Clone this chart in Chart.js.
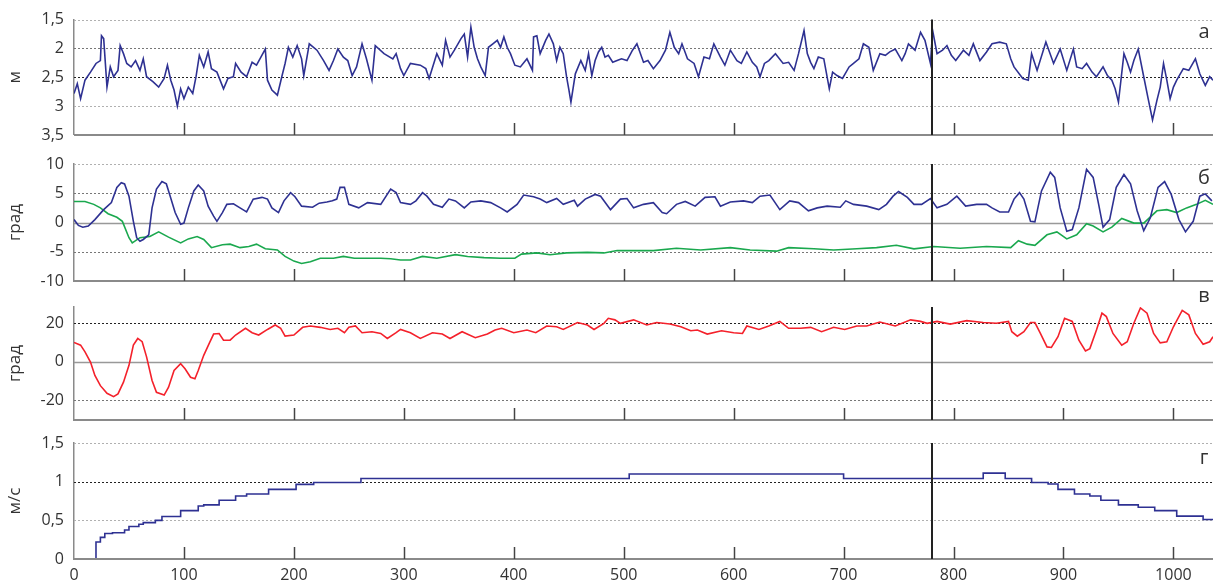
<!DOCTYPE html>
<html>
<head>
<meta charset="utf-8">
<script src="https://cdn.jsdelivr.net/npm/chart.js@4/dist/chart.umd.min.js"></script>
<style>
  html, body { margin: 0; padding: 0; background: #fff; }
  #wrap { position: relative; width: 1213px; height: 582px; overflow: hidden; }
  #wrap canvas { position: absolute; left: 0; top: 0; }
</style>
</head>
<body>
<div id="wrap">
  <canvas id="panelA" width="1213" height="582"></canvas>
  <canvas id="panelB" width="1213" height="582"></canvas>
  <canvas id="panelC" width="1213" height="582"></canvas>
  <canvas id="panelD" width="1213" height="582"></canvas>
</div>
<script>
// shared time axis
const xTicks = [0, 100, 200, 300, 400, 500, 600, 700, 800, 900, 1000];
const xMax = 1036;
const markerAt = 780;

// panel а, м
const timeA = [
  0, 3, 6, 10, 15, 20, 24, 25, 27, 30,
  33, 36, 40, 42, 45, 48, 52, 56, 60, 63,
  66, 72, 77, 82, 85, 88, 91, 94, 97, 100,
  104, 108, 111, 114, 118, 122, 125, 130, 136, 140,
  145, 147, 152, 157, 162, 166, 170, 174, 176, 180,
  185, 189, 192, 195, 199, 203, 207, 209, 214, 221,
  227, 232, 236, 240, 245, 249, 253, 257, 262, 266,
  271, 274, 282, 290, 293, 297, 300, 306, 315, 320,
  323, 330, 335, 338, 342, 346, 352, 355, 358, 361,
  364, 367, 370, 374, 377, 381, 385, 388, 391, 394,
  397, 401, 406, 412, 417, 418, 421, 424, 429, 432,
  436, 439, 442, 445, 448, 450, 452, 456, 461, 465,
  468, 471, 474, 477, 480, 483, 486, 490, 494, 498,
  503, 508, 512, 518, 522, 527, 533, 538, 542, 546,
  550, 553, 558, 564, 568, 573, 578, 582, 588, 592,
  597, 603, 607, 612, 617, 621, 624, 628, 632, 638,
  645, 650, 655, 659, 664, 667, 670, 673, 677, 682,
  687, 690, 694, 699, 705, 709, 714, 718, 723, 727,
  733, 738, 742, 747, 753, 756, 759, 765, 770, 774,
  779, 781, 785, 790, 794, 798, 802, 809, 814, 818,
  824, 830, 835, 842, 848, 852, 855, 863, 868, 871,
  876, 884, 891, 897, 903, 909, 912, 917, 921, 926,
  930, 936, 940, 944, 947, 950, 955, 958, 961, 964,
  968, 973, 977, 981, 985, 988, 991, 994, 997, 1000,
  1003, 1009, 1014, 1020, 1024, 1029, 1033, 1036
];
const depthA = [
  2.78, 2.61, 2.87, 2.55, 2.41, 2.26, 2.21, 1.78, 1.83, 2.67,
  2.32, 2.49, 2.38, 1.95, 2.09, 2.26, 2.32, 2.21, 2.38, 2.18,
  2.49, 2.58, 2.67, 2.52, 2.29, 2.55, 2.72, 3.0, 2.70, 2.87,
  2.67, 2.78, 2.49, 2.12, 2.32, 2.06, 2.35, 2.41, 2.70, 2.52,
  2.49, 2.26, 2.41, 2.49, 2.24, 2.29, 2.15, 2.01, 2.55, 2.72,
  2.81, 2.49, 2.26, 1.98, 2.15, 1.95, 2.18, 2.47, 1.92, 2.03,
  2.21, 2.38, 2.21, 2.01, 2.15, 2.21, 2.47, 2.32, 1.92, 2.18,
  2.55, 1.95, 2.09, 2.18, 2.09, 2.35, 2.47, 2.26, 2.29, 2.35,
  2.52, 2.09, 2.29, 1.86, 2.15, 2.03, 1.83, 1.75, 2.15, 1.63,
  1.98, 2.18, 2.32, 2.47, 1.98, 1.92, 1.86, 1.98, 1.80, 1.98,
  2.09, 2.29, 2.32, 2.18, 2.38, 1.80, 1.78, 2.09, 1.86, 1.75,
  1.92, 2.21, 1.98, 2.09, 2.49, 2.70, 2.93, 2.44, 2.21, 2.38,
  2.09, 2.47, 2.21, 2.06, 1.98, 2.15, 2.12, 2.24, 2.21, 2.18,
  2.21, 2.03, 1.92, 2.24, 2.21, 2.35, 2.21, 2.03, 1.72, 1.98,
  2.09, 1.92, 2.18, 2.26, 2.49, 2.15, 2.18, 1.92, 2.15, 2.29,
  2.03, 2.21, 2.26, 2.06, 2.24, 2.32, 2.49, 2.26, 2.21, 2.09,
  2.26, 2.24, 2.38, 2.09, 1.69, 2.09, 2.24, 2.35, 2.15, 2.18,
  2.70, 2.41, 2.47, 2.52, 2.32, 2.26, 2.18, 1.92, 1.98, 2.38,
  2.09, 2.12, 2.06, 2.01, 2.21, 2.09, 1.92, 2.03, 1.72, 1.86,
  2.26, 1.69, 2.09, 2.03, 1.95, 2.12, 2.21, 2.03, 2.12, 1.92,
  2.21, 2.06, 1.92, 1.89, 1.92, 2.18, 2.32, 2.52, 2.55, 2.09,
  2.38, 1.89, 2.26, 2.01, 2.38, 2.01, 2.32, 2.35, 2.26, 2.41,
  2.49, 2.32, 2.47, 2.55, 2.70, 2.93, 2.09, 2.24, 2.41, 2.21,
  2.01, 2.49, 2.87, 3.24, 2.90, 2.67, 2.26, 2.55, 2.87, 2.67,
  2.55, 2.35, 2.38, 2.18, 2.44, 2.64, 2.49, 2.55
];
const ticksA = [1.5, 2, 2.5, 3, 3.5];

// panel б, град (blue and green)
const timeB1 = [
  0, 4, 8, 13, 19, 27, 34, 39, 43, 46,
  50, 54, 57, 60, 63, 68, 71, 75, 80, 84,
  87, 92, 97, 100, 104, 109, 113, 118, 122, 127,
  130, 135, 139, 145, 151, 157, 163, 171, 176, 180,
  186, 191, 197, 201, 207, 217, 223, 230, 235, 239,
  242, 246, 250, 259, 267, 279, 288, 293, 297, 306,
  311, 317, 321, 327, 335, 341, 347, 355, 361, 370,
  379, 388, 394, 403, 409, 418, 424, 430, 439, 445,
  455, 458, 465, 474, 479, 488, 497, 503, 509, 518,
  527, 535, 539, 548, 556, 565, 574, 583, 588, 597,
  609, 617, 624, 633, 642, 651, 659, 668, 676, 685,
  697, 702, 709, 721, 732, 739, 745, 750, 758, 764,
  771, 779, 785, 794, 803, 811, 821, 830, 835, 842,
  850, 855, 860, 864, 870, 874, 880, 888, 892, 897,
  903, 908, 914, 921, 927, 932, 936, 942, 948, 955,
  961, 967, 973, 979, 986, 992, 998, 1005, 1011, 1018,
  1024, 1029, 1035
];
const angleB1 = [
  0.5, -0.5, -0.8, -0.6, 0.5, 2.2, 3.4, 6.0, 6.8, 6.6,
  4.5, 0.2, -2.6, -3.2, -2.9, -2.1, 2.5, 5.7, 7.0, 6.6,
  4.8, 1.7, -0.3, -0.1, 2.5, 5.4, 6.4, 5.4, 2.8, 1.1,
  0.2, 1.7, 3.1, 3.2, 2.5, 1.8, 4.0, 4.3, 4.0, 2.5,
  1.7, 3.7, 5.1, 4.4, 2.8, 2.6, 3.3, 3.5, 3.7, 4.0,
  6.0, 6.0, 3.1, 2.5, 3.4, 3.1, 5.7, 5.1, 3.4, 3.1,
  3.7, 5.1, 4.5, 3.1, 2.6, 4.0, 3.7, 2.5, 3.5, 3.7,
  3.4, 2.5, 1.8, 3.1, 4.7, 4.4, 4.0, 3.4, 4.1, 3.1,
  3.8, 2.8, 4.0, 4.8, 4.5, 2.2, 4.0, 4.1, 2.5, 3.1,
  3.4, 1.7, 1.5, 3.1, 3.6, 2.8, 4.3, 4.4, 2.8, 3.5,
  3.7, 3.4, 4.5, 4.7, 2.2, 3.7, 3.4, 2.0, 2.5, 2.8,
  2.6, 3.7, 3.1, 2.8, 2.2, 3.1, 4.5, 5.3, 4.3, 3.1,
  3.1, 4.1, 2.5, 3.1, 4.5, 2.8, 3.1, 3.1, 2.5, 1.8,
  1.8, 4.0, 5.1, 4.0, 0.2, 0.1, 5.4, 8.6, 7.7, 2.5,
  -1.5, -1.2, 2.5, 9.1, 7.7, 3.1, -0.8, 0.5, 6.0, 8.2,
  6.6, 2.0, -1.4, 0.8, 6.0, 7.0, 4.8, 0.5, -1.6, 0.2,
  4.5, 4.9, 3.7
];
const timeB2 = [
  0, 10, 18, 24, 31, 39, 44, 50, 53, 60,
  69, 77, 86, 97, 104, 112, 118, 125, 135, 142,
  151, 159, 166, 174, 185, 192, 200, 207, 215, 224,
  236, 245, 255, 267, 279, 288, 297, 306, 317, 330,
  347, 358, 373, 388, 401, 407, 421, 433, 448, 467,
  482, 494, 515, 527, 548, 570, 597, 615, 639, 650,
  673, 691, 712, 730, 748, 764, 782, 806, 830, 852,
  859, 867, 874, 885, 894, 903, 912, 921, 927, 936,
  944, 953, 964, 973, 985, 994, 1003, 1012, 1021, 1029,
  1036
];
const angleB2 = [
  3.6, 3.6, 3.1, 2.5, 1.5, 0.9, 0.2, -2.6, -3.5, -2.6,
  -2.4, -1.6, -2.5, -3.5, -2.8, -2.4, -2.9, -4.3, -3.8, -3.7,
  -4.3, -4.1, -3.7, -4.5, -4.7, -5.8, -6.6, -7.0, -6.7, -6.1,
  -6.1, -5.8, -6.1, -6.1, -6.1, -6.2, -6.4, -6.4, -5.8, -6.1,
  -5.5, -5.8, -6.0, -6.1, -6.1, -5.4, -5.2, -5.5, -5.2, -5.1,
  -5.2, -4.8, -4.8, -4.8, -4.4, -4.7, -4.3, -4.7, -4.9, -4.3,
  -4.5, -4.7, -4.5, -4.3, -3.9, -4.5, -4.1, -4.4, -4.1, -4.3,
  -3.1, -3.7, -3.9, -2.1, -1.6, -2.8, -2.1, -0.2, -0.6, -1.6,
  -0.8, 0.7, -0.1, -0.1, 2.0, 2.2, 1.7, 2.5, 3.1, 3.8,
  3.1
];
const ticksB = [-10, -5, 0, 5, 10];

// panel в, град (red)
const timeC = [
  0, 6, 10, 15, 19, 24, 30, 36, 40, 45,
  50, 54, 58, 62, 66, 71, 75, 82, 86, 91,
  97, 101, 106, 110, 113, 118, 123, 127, 132, 136,
  142, 147, 156, 162, 168, 176, 183, 188, 192, 200,
  208, 215, 224, 233, 240, 246, 250, 256, 262, 271,
  279, 285, 293, 297, 306, 315, 326, 335, 342, 353,
  365, 376, 383, 389, 400, 412, 420, 430, 439, 445,
  458, 467, 473, 482, 486, 492, 497, 509, 521, 530,
  542, 552, 561, 567, 576, 589, 600, 608, 612, 623,
  632, 642, 650, 661, 670, 680, 691, 701, 712, 721,
  733, 747, 761, 770, 776, 785, 797, 812, 827, 839,
  850, 853, 858, 864, 870, 874, 879, 885, 889, 895,
  901, 908, 914, 920, 924, 930, 935, 939, 945, 953,
  958, 964, 970, 976, 982, 988, 994, 1000, 1008, 1014,
  1020, 1027, 1033, 1036
];
const angleC = [
  10, 8.6, 5.1, -0.2, -7.2, -12.5, -16.5, -18.2, -16.8, -10.7,
  -1.9, 8.6, 12.1, 10.4, 2.5, -9.8, -16.0, -17.4, -13.3, -4.6,
  -1.1, -3.7, -8.1, -8.9, -4.6, 3.3, 9.5, 14.4, 14.7, 11.2,
  11.2, 13.9, 17.4, 15.1, 13.9, 16.8, 19.1, 17.4, 13.3, 13.9,
  17.9, 18.6, 17.9, 16.8, 17.4, 15.1, 17.9, 18.6, 15.1, 15.6,
  14.7, 12.1, 15.1, 16.8, 15.1, 12.1, 15.1, 14.4, 12.1, 15.6,
  12.5, 14.4, 16.5, 17.4, 15.1, 16.5, 15.1, 18.6, 18.2, 16.8,
  20.4, 19.1, 16.8, 20, 22.6, 21.8, 20, 21.8, 19.1, 20.4,
  19.6, 18.2, 16.1, 16.5, 14.4, 16.1, 15.1, 14.7, 18.6, 16.8,
  18.6, 21.0, 17.4, 17.4, 17.9, 15.6, 17.9, 16.8, 18.6, 18.6,
  20.7, 18.6, 21.8, 21, 20, 21, 19.6, 21.4, 20.4, 20,
  21, 15.6, 13.3, 15.6, 20.4, 20.4, 14.7, 7.7, 7.4, 13.0,
  22.6, 21, 11.2, 5.6, 6.8, 16.5, 25.3, 23.5, 14.7, 8.6,
  10.4, 20, 28, 25.3, 14.7, 9.8, 10.4, 18.2, 26.7, 24.4,
  14.7, 9.1, 10.4, 13.0
];
const ticksC = [-20, 0, 20];

// panel г, м/с (stepped)
const timeD = [
  20, 20, 24, 28, 35, 46, 50, 59, 63, 74,
  80, 97, 113, 118, 132, 147, 157, 177, 202, 218,
  261, 505, 700, 827, 847, 871, 886, 895, 910, 924,
  934, 950, 968, 983, 1003, 1027, 1036
];
const speedD = [
  0, 0.22, 0.28, 0.33, 0.34, 0.375, 0.42, 0.45, 0.47, 0.50,
  0.55, 0.625, 0.685, 0.70, 0.76, 0.815, 0.84, 0.90, 0.965, 0.99,
  1.04, 1.10, 1.04, 1.11, 1.04, 0.99, 0.97, 0.90, 0.84, 0.815,
  0.76, 0.70, 0.67, 0.625, 0.555, 0.51, 0.51
];
const ticksD = [0, 0.5, 1, 1.5];

const BLUE = '#2e3192';
const GREEN = '#1aa84e';
const RED = '#f4212b';

Chart.defaults.font.family = "'Open Sans', sans-serif";
Chart.defaults.font.size = 16;
Chart.defaults.color = '#333';

const pts = (xs, ys) => xs.map((x, i) => ({ x: x, y: ys[i] }));

// guide lines, bottom axis with inner ticks, marker line, panel letter
const frame = {
  id: 'frame',
  beforeDatasetsDraw(chart, args, opts) {
    const { ctx, chartArea: a } = chart;
    const y = chart.scales.y;
    ctx.save();
    opts.guides.forEach(g => {
      const py = Math.round(y.getPixelForValue(g.value)) + 0.5;
      ctx.beginPath();
      ctx.strokeStyle = g.color;
      ctx.lineWidth = g.width || 1;
      ctx.setLineDash(g.dash || []);
      ctx.moveTo(a.left, py);
      ctx.lineTo(a.right, py);
      ctx.stroke();
    });
    ctx.restore();
  },
  afterDatasetsDraw(chart, args, opts) {
    const { ctx, chartArea: a } = chart;
    const x = chart.scales.x;
    ctx.save();
    ctx.setLineDash([]);
    ctx.strokeStyle = '#8a8a8a';
    ctx.lineWidth = 2;
    ctx.beginPath();
    ctx.moveTo(a.left, a.bottom);
    ctx.lineTo(a.right, a.bottom);
    ctx.stroke();

    ctx.strokeStyle = '#444';
    ctx.lineWidth = 1.5;
    xTicks.filter(v => v > 0).forEach(v => {
      const px = Math.round(x.getPixelForValue(v)) + 0.5;
      ctx.beginPath();
      ctx.moveTo(px, a.bottom);
      ctx.lineTo(px, a.bottom - 12);
      ctx.stroke();
    });

    const mx = Math.round(x.getPixelForValue(markerAt));
    ctx.strokeStyle = '#222';
    ctx.lineWidth = 2;
    ctx.beginPath();
    ctx.moveTo(mx, a.top);
    ctx.lineTo(mx, a.bottom);
    ctx.stroke();

    ctx.fillStyle = '#333';
    ctx.font = "20px 'Open Sans', sans-serif";
    ctx.textAlign = 'center';
    ctx.textBaseline = 'middle';
    ctx.fillText(opts.letter, a.right - 9, a.top + opts.letterDy);
    ctx.restore();
  }
};

function makePanel(id, datasets, y, frameOpts, pad, showX) {
  return new Chart(document.getElementById(id), {
    type: 'line',
    data: { datasets: datasets },
    options: {
      responsive: false,
      animation: false,
      events: [],
      layout: { padding: { top: pad[0], bottom: pad[1], left: 0, right: 0 } },
      elements: { point: { radius: 0 }, line: { borderWidth: 1.6, tension: 0 } },
      plugins: { legend: { display: false }, tooltip: { enabled: false }, frame: frameOpts },
      scales: {
        x: {
          type: 'linear',
          min: 0,
          max: xMax,
          display: showX,
          afterBuildTicks: s => { s.ticks = xTicks.map(v => ({ value: v })); },
          afterFit: s => { if (showX) s.height = 23; },
          grid: { display: false, drawTicks: false },
          border: { display: false },
          ticks: {
            padding: 7,
            maxRotation: 0,
            autoSkip: false,
            color: '#333',
            callback: v => String(v)
          }
        },
        y: {
          type: 'linear',
          min: y.min,
          max: y.max,
          reverse: !!y.reverse,
          afterBuildTicks: s => { s.ticks = y.ticks.map(v => ({ value: v })); },
          afterFit: s => { s.width = 74; },
          grid: { display: false, drawTicks: false },
          border: { display: true, color: '#8a8a8a', width: 1.5 },
          ticks: {
            padding: 10,
            autoSkip: false,
            color: '#333',
            callback: v => String(v).replace('.', ',')
          },
          title: {
            display: true,
            text: y.title,
            color: '#333',
            font: { size: 17 },
            padding: { top: 5, bottom: 0 }
          }
        }
      }
    },
    plugins: [frame]
  });
}

const dotLight = { color: '#b0b0b0', dash: [2, 2] };
const dotMid = { color: '#777', dash: [2, 2] };
const dotDark = { color: '#222', dash: [2, 2] };

makePanel('panelA',
  [{ data: pts(timeA, depthA), borderColor: BLUE }],
  { min: 1.5, max: 3.5, reverse: true, ticks: ticksA, title: 'м' },
  { letter: 'а', letterDy: 13, guides: [
    Object.assign({ value: 1.5 }, dotLight),
    Object.assign({ value: 2 }, dotMid),
    Object.assign({ value: 2.5 }, dotDark),
    Object.assign({ value: 3 }, dotLight)
  ] },
  [19, 447], false);

makePanel('panelB',
  [{ data: pts(timeB1, angleB1), borderColor: BLUE },
   { data: pts(timeB2, angleB2), borderColor: GREEN }],
  { min: -10, max: 10, ticks: ticksB, title: 'град' },
  { letter: 'б', letterDy: 14, guides: [
    Object.assign({ value: 10 }, dotLight),
    Object.assign({ value: 5 }, dotMid),
    { value: 0, color: '#999', width: 1.5 },
    Object.assign({ value: -5 }, dotMid)
  ] },
  [164, 301], false);

makePanel('panelC',
  [{ data: pts(timeC, angleC), borderColor: RED }],
  { min: -30.4, max: 28.5, ticks: ticksC, title: 'град' },
  { letter: 'в', letterDy: -11, guides: [
    Object.assign({ value: 20 }, dotDark),
    { value: 0, color: '#999', width: 1.5 },
    Object.assign({ value: -20 }, dotMid)
  ] },
  [307, 162], false);

makePanel('panelD',
  [{ data: pts(timeD, speedD), borderColor: BLUE, stepped: 'before' }],
  { min: 0, max: 1.5, ticks: ticksD, title: 'м/с' },
  { letter: 'г', letterDy: 15, guides: [
    Object.assign({ value: 1.5 }, dotLight),
    Object.assign({ value: 1 }, dotDark),
    Object.assign({ value: 0.5 }, dotLight)
  ] },
  [443, 0], true);
</script>
</body>
</html>
